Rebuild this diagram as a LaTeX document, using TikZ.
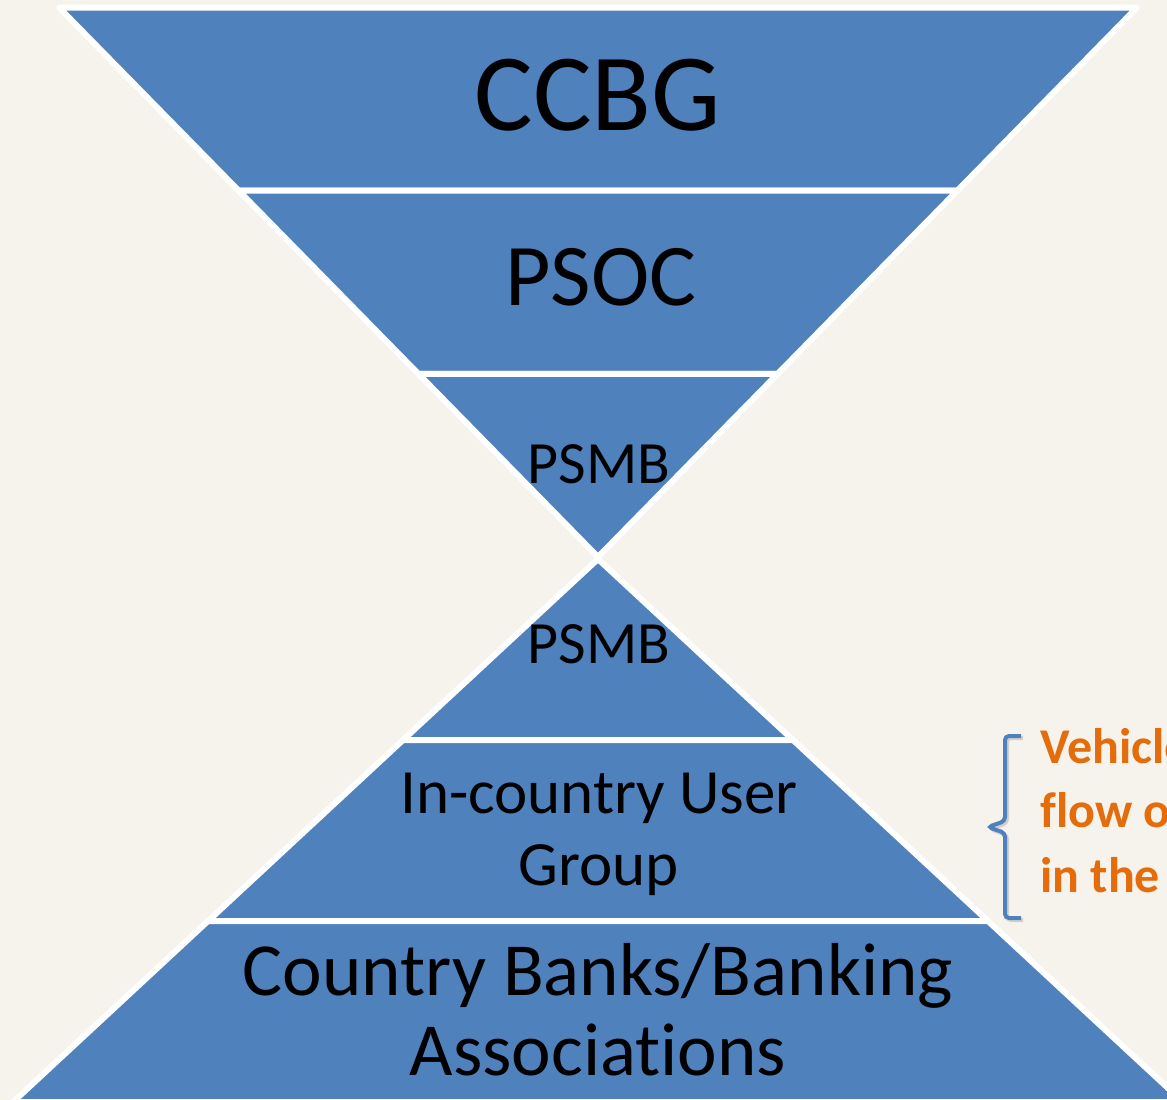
\documentclass[tikz,border=0pt]{standalone}
\usepackage{fontspec}
\setmainfont{Carlito}[Ligatures=NoCommon]
\usepackage{tikz}
\usetikzlibrary{calc}
\definecolor{slate}{HTML}{4F81BD}
\definecolor{paper}{HTML}{F6F3EC}
\definecolor{rust}{HTML}{E46C0A}

\begin{document}
\begin{tikzpicture}[x=1pt, y=-1pt,
    piece/.style={fill=slate, draw=white, line width=6pt, line join=round},
    lvl/.style={anchor=base, align=center, inner sep=0pt, text=black}]
    \useasboundingbox (0,0) rectangle (1167,1100);
    \fill[paper] (0,0) rectangle (1167,1100);
    \clip (0,0) rectangle (1167,1100);
    \coordinate (TL) at (59,7.5);
    \coordinate (TR) at (1137,7.5);
    \coordinate (A) at (598,557);
    \coordinate (B) at (598,559);
    \coordinate (BL) at (13,1102);
    \coordinate (BR) at (1183,1102);
    \coordinate (L1) at ($(A)!2/3!(TL)$);
    \coordinate (R1) at ($(A)!2/3!(TR)$);
    \coordinate (L2) at ($(A)!1/3!(TL)$);
    \coordinate (R2) at ($(A)!1/3!(TR)$);
    \coordinate (L3) at ($(B)!1/3!(BL)$);
    \coordinate (R3) at ($(B)!1/3!(BR)$);
    \coordinate (L4) at ($(B)!2/3!(BL)$);
    \coordinate (R4) at ($(B)!2/3!(BR)$);
    \draw[piece] (TL) -- (TR) -- (R1) -- (L1) -- cycle;
    \draw[piece] (L1) -- (R1) -- (R2) -- (L2) -- cycle;
    \draw[piece] (L2) -- (R2) -- (A) -- cycle;
    \draw[piece] (B) -- (R3) -- (L3) -- cycle;
    \draw[piece] (L3) -- (R3) -- (R4) -- (L4) -- cycle;
    \draw[piece] (L4) -- (R4) -- (BR) -- (BL) -- cycle;
    \node[lvl, font=\fontsize{110}{120}\selectfont] (ccbg) at (598,130) {CCBG};
    \node[lvl, font=\fontsize{88}{96}\selectfont] (psoc) at (601,305) {PSOC};
    \node[lvl, font=\fontsize{60}{68}\selectfont] (psmbtop) at (599,483) {PSMB};
    \node[lvl, font=\fontsize{60}{68}\selectfont] (psmbbot) at (599,663) {PSMB};
    \node[lvl, font=\fontsize{63}{72}\selectfont] (user) at (599,885) {In-country User\\Group};
    \node[lvl, font=\fontsize{75}{80}\selectfont] (banks) at (598,1075) {Country Banks/Banking\\Associations};
    \draw[black!50, opacity=0.3, line width=4pt, rounded corners=4pt]
        (1023,738) -- (1007,738) -- (1007,823) -- (990,829) -- (1007,835) -- (1007,920) -- (1023,920);
    \draw[slate, line width=4pt, rounded corners=4pt]
        (1021,736) -- (1005,736) -- (1005,821) -- (988,827) -- (1005,833) -- (1005,918) -- (1021,918);
    \node[anchor=base west, align=left, inner sep=0pt, text=rust,
        font=\bfseries\fontsize{50}{64.5}\selectfont] (note) at (1040,892) {Vehicle\\flow of\\in the};
\end{tikzpicture}
\end{document}
